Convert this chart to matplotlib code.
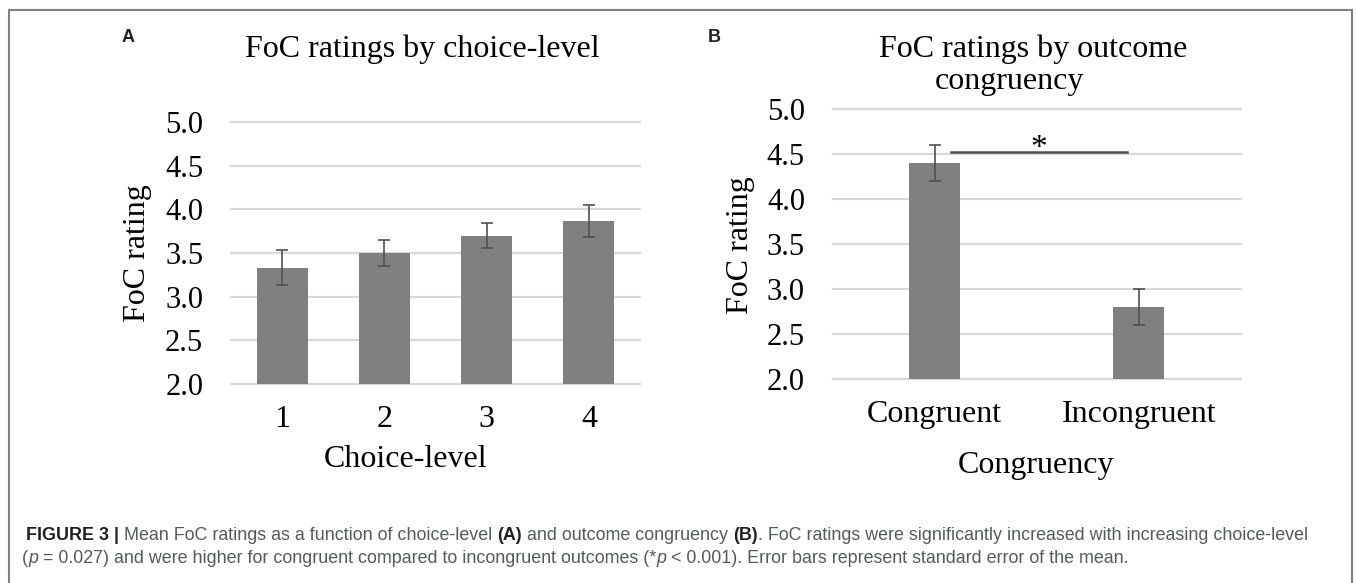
import numpy as np
import matplotlib
matplotlib.use('Agg')
import matplotlib.pyplot as plt
from matplotlib.patches import Rectangle

# Panel A: FoC rating by choice-level
choice_levels = ['1', '2', '3', '4']
choice_means = [3.33, 3.50, 3.70, 3.87]
choice_sem = [0.20, 0.145, 0.14, 0.185]

# Panel B: FoC rating by outcome congruency
congruency = ['Congruent', 'Incongruent']
congruency_means = [4.40, 2.80]
congruency_sem = [0.20, 0.20]

# significance bracket in panel B
sig_span = (0.08, 0.94)
sig_level = 4.52
sig_star_level = 4.47

y_ticks = [2.0, 2.5, 3.0, 3.5, 4.0, 4.5, 5.0]

caption_line1 = [
    ("FIGURE 3", "bold", "normal"),
    (" | ", "bold", "normal"),
    ("Mean FoC ratings as a function of choice-level ", "normal", "normal"),
    ("(A)", "bold", "normal"),
    (" and outcome congruency ", "normal", "normal"),
    ("(B)", "bold", "normal"),
    (". FoC ratings were significantly increased with increasing choice-level", "normal", "normal"),
]
caption_line2 = [
    ("(", "normal", "normal"),
    ("p", "normal", "italic"),
    (" = 0.027) and were higher for congruent compared to incongruent outcomes (*", "normal", "normal"),
    ("p", "normal", "italic"),
    (" < 0.001). Error bars represent standard error of the mean.", "normal", "normal"),
]

W, H = 1356, 583
BAR = '#808080'
ERR = '#505050'
GRID = '#d9d9d9'
FS = 23

plt.rcParams['font.family'] = ['Liberation Serif', 'DejaVu Serif']

fig = plt.figure(figsize=(W / 100, H / 100), dpi=100)
renderer = fig.canvas.get_renderer()


def fx(x):
    return x / W


def fy(y):
    return 1 - y / H


def axes_px(x0, x1, ytop, ybot):
    return fig.add_axes([fx(x0), fy(ybot), (x1 - x0) / W, (ybot - ytop) / H])


def style(ax, labels):
    ax.set_ylim(2, 5)
    ax.set_yticks(y_ticks)
    ax.set_yticklabels(['{:.1f}'.format(v) for v in y_ticks])
    ax.set_xticks(range(len(labels)))
    ax.set_xticklabels(labels)
    ax.set_xlim(-0.5, len(labels) - 0.5)
    ax.yaxis.grid(True, color=GRID, lw=1.6)
    for gl in ax.get_ygridlines():
        gl.set_clip_on(False)
    ax.set_axisbelow(True)
    for s in ax.spines.values():
        s.set_visible(False)
    ax.tick_params(axis='y', length=0, labelsize=22, pad=20)
    ax.tick_params(axis='x', length=0, labelsize=FS, pad=15)


# ---- panel A ----
axA = axes_px(231, 640, 122.3, 383.7)
xa = np.arange(len(choice_levels))
axA.bar(xa, choice_means, width=0.5, color=BAR, zorder=2)
axA.errorbar(xa, choice_means, yerr=choice_sem, fmt='none', ecolor=ERR,
             elinewidth=1.2, capsize=4.5, capthick=1.2, zorder=3)
style(axA, choice_levels)

fig.text(fx(128), fy(38), 'A', family='Liberation Sans', fontweight='bold',
         fontsize=13, color='#231f20', ha='center', va='center')
fig.text(fx(422.5), fy(56.7), 'FoC ratings by choice-level', fontsize=FS,
         ha='center', va='baseline')
fig.text(fx(138), fy(253), 'FoC rating', fontsize=FS, rotation=90,
         ha='center', va='center')
fig.text(fx(406), fy(466.7), 'Choice-level', fontsize=FS,
         ha='center', va='baseline')

# ---- panel B ----
axB = axes_px(832.7, 1241, 109, 379.3)
xb = np.arange(len(congruency))
axB.bar(xb, congruency_means, width=0.25, color=BAR, zorder=2)
axB.errorbar(xb, congruency_means, yerr=congruency_sem, fmt='none', ecolor=ERR,
             elinewidth=1.2, capsize=4.5, capthick=1.2, zorder=3)
style(axB, congruency)
axB.plot(sig_span, [sig_level, sig_level], color=ERR, lw=1.8, zorder=3)
axB.text(np.mean(sig_span), sig_star_level, '*', fontsize=24,
         ha='center', va='baseline')

fig.text(fx(714.6), fy(38), 'B', family='Liberation Sans', fontweight='bold',
         fontsize=13, color='#231f20', ha='center', va='center')
fig.text(fx(1033.6), fy(56.7), 'FoC ratings by outcome', fontsize=FS,
         ha='center', va='baseline')
fig.text(fx(1009), fy(89), 'congruency', fontsize=FS,
         ha='center', va='baseline')
fig.text(fx(740.5), fy(245), 'FoC rating', fontsize=FS, rotation=90,
         ha='center', va='center')
fig.text(fx(1036), fy(473), 'Congruency', fontsize=FS,
         ha='center', va='baseline')


# ---- caption ----
def run_width(s, weight, fstyle, size):
    kw = dict(family='Liberation Sans', fontsize=size, fontweight=weight,
              fontstyle=fstyle)
    t1 = fig.text(0, 0, '|' + s + '|', **kw)
    t2 = fig.text(0, 0, '||', **kw)
    w = t1.get_window_extent(renderer).width - t2.get_window_extent(renderer).width
    t1.remove()
    t2.remove()
    return w


def draw_runs(x, y, runs, size):
    for s, weight, fstyle in runs:
        color = '#231f20' if weight == 'bold' else '#58595b'
        fig.text(fx(x), fy(y), s, family='Liberation Sans', fontsize=size,
                 fontweight=weight, fontstyle=fstyle, color=color,
                 ha='left', va='baseline')
        x += run_width(s, weight, fstyle, size)


base = sum(run_width(s, w, st, 10) for s, w, st in caption_line1)
cap_size = 10 * (1310 - 26) / base
draw_runs(26, 540, caption_line1, cap_size)
draw_runs(22, 563, caption_line2, cap_size)

# outer frame
fig.add_artist(Rectangle((fx(8.5), -0.05), (1351.7 - 8.5) / W, 1.05 - 10 / H,
                         transform=fig.transFigure, fill=False,
                         ec='#808080', lw=1.5))

fig.savefig('out.png', dpi=100)
